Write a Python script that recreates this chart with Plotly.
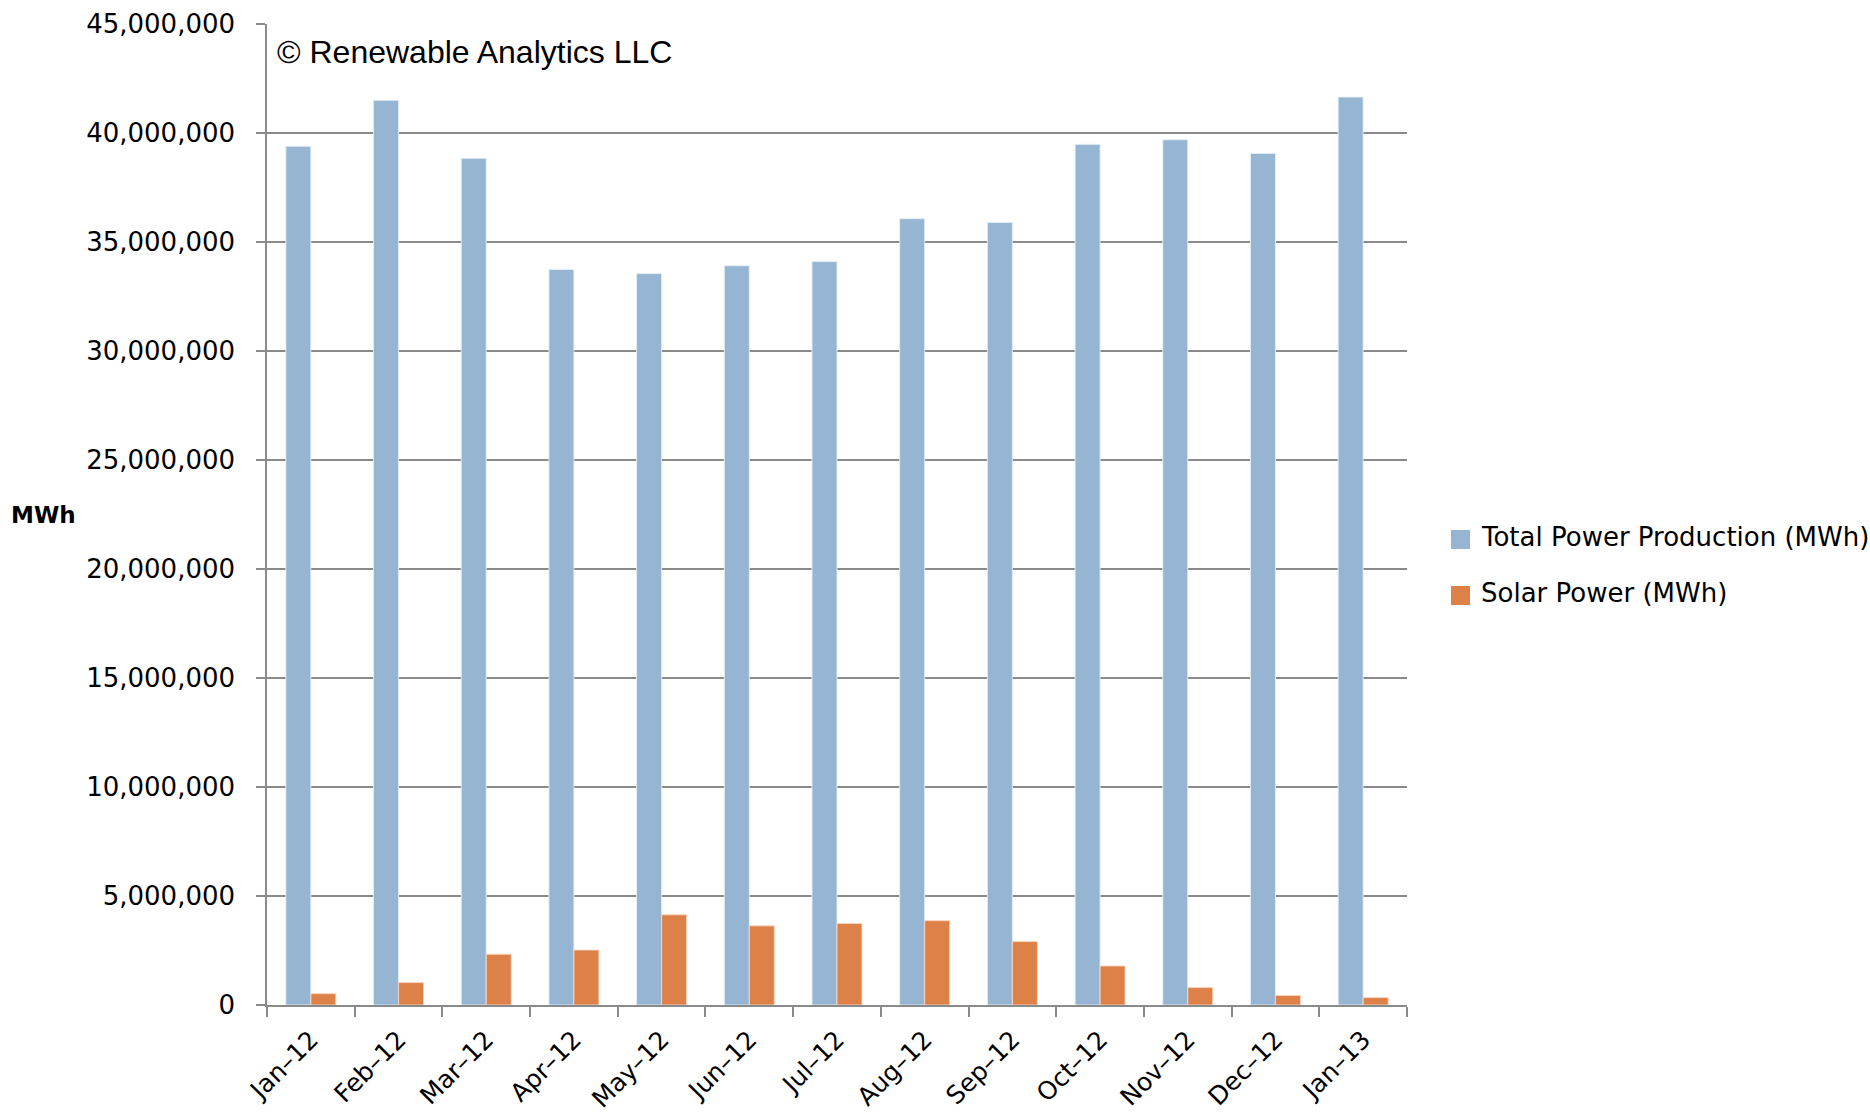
import plotly.graph_objects as go

# Monthly production, Jan 2012 - Jan 2013
months = ["Jan–12", "Feb–12", "Mar–12", "Apr–12", "May–12", "Jun–12", "Jul–12",
          "Aug–12", "Sep–12", "Oct–12", "Nov–12", "Dec–12", "Jan–13"]
total_mwh = [39390000, 41500000, 38840000, 33740000, 33550000, 33910000, 34100000,
             36070000, 35900000, 39480000, 39690000, 39060000, 41650000]
solar_mwh = [520000, 1030000, 2330000, 2520000, 4140000, 3630000, 3740000,
             3870000, 2910000, 1790000, 800000, 440000, 340000]
y_ticks = list(range(0, 45000001, 5000000))
series_names = ["Total Power Production (MWh)", "Solar Power (MWh)"]

BLUE = "#95B5D3"
ORANGE = "#DD8148"
GRID = "#8A8A8A"
LABEL_FONT = "DejaVu Sans"

fig = go.Figure()
fig.add_trace(go.Bar(
    x=months, y=total_mwh, name=series_names[0], showlegend=False,
    marker=dict(color=BLUE, line=dict(color="rgba(230,238,246,0.9)", width=1)),
))
fig.add_trace(go.Bar(
    x=months, y=solar_mwh, name=series_names[1], showlegend=False,
    marker=dict(color=ORANGE, line=dict(color="rgba(250,215,195,0.9)", width=1)),
))

fig.update_layout(
    width=1870, height=1116,
    margin=dict(l=267, r=463, t=24, b=111),
    paper_bgcolor="white", plot_bgcolor="white",
    barmode="group", bargap=0.43, bargroupgap=0,
    font=dict(family=LABEL_FONT, color="black"),
)

fig.update_xaxes(
    automargin=False,
    showgrid=False,
    showline=True, linecolor=GRID, linewidth=2,
    ticks="outside", tickson="boundaries", ticklen=10, tickcolor=GRID, tickwidth=1.5,
    tickangle=-45, ticklabelstandoff=8,
    tickfont=dict(family=LABEL_FONT, size=25, color="black"),
)
fig.update_yaxes(
    automargin=False,
    range=[0, 45000000],
    tickvals=y_ticks,
    ticktext=[f"{v:,}" for v in y_ticks],
    showgrid=True, gridcolor=GRID, gridwidth=1.5,
    showline=True, linecolor=GRID, linewidth=1.5,
    ticks="outside", ticklen=9, tickcolor=GRID, tickwidth=1.5,
    ticklabelstandoff=16,
    tickfont=dict(family=LABEL_FONT, size=26, color="black"),
    zeroline=False,
)

# Legend: colour swatches with series names, right of the plot
legend_rows = [(BLUE, series_names[0], 0.4745), (ORANGE, series_names[1], 0.4174)]
for color, label, yc in legend_rows:
    fig.add_shape(
        type="rect", xref="paper", yref="paper",
        x0=1.0386, x1=1.0553, y0=yc - 0.0097, y1=yc + 0.0097,
        fillcolor=color, line=dict(width=0),
    )
    fig.add_annotation(
        text=label, xref="paper", yref="paper",
        x=1.0632, y=yc + 0.003, xanchor="left", yanchor="middle",
        showarrow=False, font=dict(family=LABEL_FONT, size=26, color="black"),
    )

# Copyright notice inside the plot area
fig.add_annotation(
    text="© Renewable Analytics LLC", xref="paper", yref="paper",
    x=0.0, y=1.0, xshift=8, yshift=-8, xanchor="left", yanchor="top",
    showarrow=False, font=dict(family="Liberation Sans", size=32, color="black"),
)
# Unit label on the left
fig.add_annotation(
    text="<b>MWh</b>", xref="paper", yref="paper",
    x=0, y=0.5, xshift=-258, xanchor="left", yanchor="middle",
    showarrow=False, font=dict(family=LABEL_FONT, size=23, color="black"),
)

fig.write_html("out.html")
